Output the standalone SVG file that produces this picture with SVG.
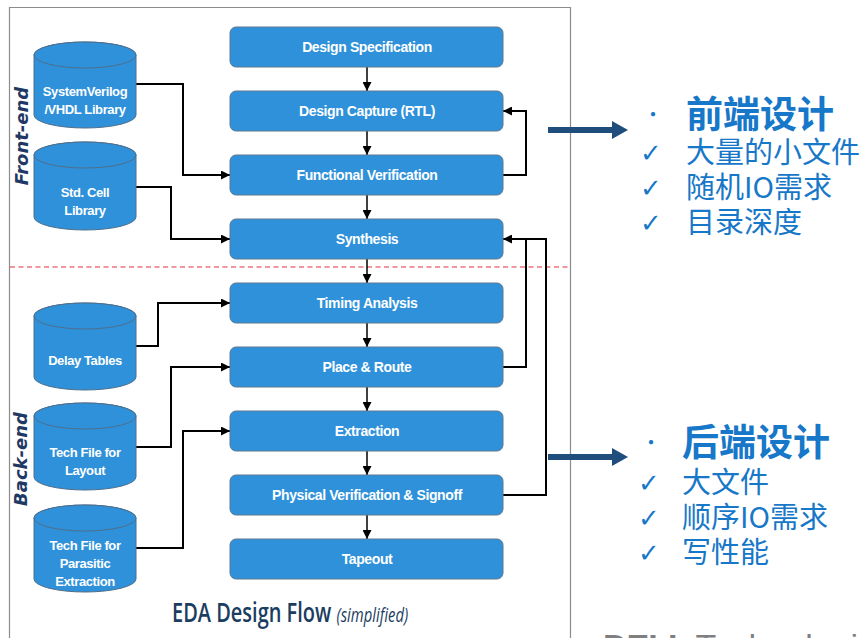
<svg xmlns="http://www.w3.org/2000/svg" width="866" height="638" viewBox="0 0 866 638">
<defs>
<style>
.box{fill:#2e91da;stroke:#5d7891;stroke-width:1}
.cyl{fill:#2e91da;stroke:#4f6f8c;stroke-width:1}
.bt{font-family:"Liberation Sans",Arial,sans-serif;font-weight:bold;font-size:14px;letter-spacing:-0.4px;fill:#ffffff;text-anchor:middle}
.ct{font-family:"Liberation Sans",Arial,sans-serif;font-weight:bold;font-size:13px;letter-spacing:-0.4px;fill:#ffffff;text-anchor:middle}
.ln{fill:none;stroke:#000;stroke-width:2}
.vl{fill:none;stroke:#000;stroke-width:1.5}
.side{font-family:"DejaVu Sans",Verdana,sans-serif;font-weight:bold;font-style:italic;font-size:18px;fill:#1f3864;text-anchor:middle}
.cn{font-family:"Noto Sans CJK SC","Noto Sans",sans-serif;fill:#1777c8}
.ck{font-family:"DejaVu Sans",sans-serif;fill:#1777c8;font-size:26px}
</style>
<marker id="ah" markerUnits="userSpaceOnUse" markerWidth="9" markerHeight="9" refX="9" refY="4.5" orient="auto">
<path d="M0,0 L9,4.5 L0,9 z" fill="#000"/>
</marker>
</defs>
<rect width="866" height="638" fill="#ffffff"/>
<path d="M9.5,640 V7.5 H570.5 V640" fill="none" stroke="#8c8c8c" stroke-width="1.2"/>
<line x1="10" y1="267" x2="570" y2="267" stroke="#e0303a" stroke-width="1.2" stroke-dasharray="5,3.5"/>
<text class="side" transform="translate(28,136) rotate(-90)">Front-end</text>
<text class="side" transform="translate(27,459) rotate(-90)">Back-end</text>

<g id="connectors">
<path class="vl" d="M367,67 V91" marker-end="url(#ah)"/>
<path class="vl" d="M367,131 V155" marker-end="url(#ah)"/>
<path class="vl" d="M367,195 V219" marker-end="url(#ah)"/>
<path class="vl" d="M367,259 V283" marker-end="url(#ah)"/>
<path class="vl" d="M367,323 V347" marker-end="url(#ah)"/>
<path class="vl" d="M367,387 V411" marker-end="url(#ah)"/>
<path class="vl" d="M367,451 V475" marker-end="url(#ah)"/>
<path class="vl" d="M367,515 V539" marker-end="url(#ah)"/>
<path class="ln" d="M136,84 H183 V175 H230" marker-end="url(#ah)"/>
<path class="ln" d="M136,187 H171 V239 H230" marker-end="url(#ah)"/>
<path class="ln" d="M136,346 H158 V303 H230" marker-end="url(#ah)"/>
<path class="ln" d="M136,447 H171 V367 H230" marker-end="url(#ah)"/>
<path class="ln" d="M136,548 H183 V431 H230" marker-end="url(#ah)"/>
<path class="ln" d="M503,175 H526 V111 H503" marker-end="url(#ah)"/>
<path class="ln" d="M503,367 H526 V239"/>
<path class="ln" d="M503,495 H546 V239 H503" marker-end="url(#ah)"/>
<path d="M548,130 H613" stroke="#1f4e7d" stroke-width="6" fill="none"/>
<polygon points="612,121 628,130 612,139" fill="#1f4e7d"/>
<path d="M548,457 H613" stroke="#1f4e7d" stroke-width="6" fill="none"/>
<polygon points="612,448 628,457 612,466" fill="#1f4e7d"/>
</g>

<g id="n1"><rect class="box" x="230" y="27" width="273" height="40" rx="6"/><text class="bt" x="367" y="52">Design Specification</text></g>
<g id="n2"><rect class="box" x="230" y="91" width="273" height="40" rx="6"/><text class="bt" x="367" y="116">Design Capture (RTL)</text></g>
<g id="n3"><rect class="box" x="230" y="155" width="273" height="40" rx="6"/><text class="bt" x="367" y="180">Functional Verification</text></g>
<g id="n4"><rect class="box" x="230" y="219" width="273" height="40" rx="6"/><text class="bt" x="367" y="244">Synthesis</text></g>
<g id="n5"><rect class="box" x="230" y="283" width="273" height="40" rx="6"/><text class="bt" x="367" y="308">Timing Analysis</text></g>
<g id="n6"><rect class="box" x="230" y="347" width="273" height="40" rx="6"/><text class="bt" x="367" y="372">Place &amp; Route</text></g>
<g id="n7"><rect class="box" x="230" y="411" width="273" height="40" rx="6"/><text class="bt" x="367" y="436">Extraction</text></g>
<g id="n8"><rect class="box" x="230" y="475" width="273" height="40" rx="6"/><text class="bt" x="367" y="500">Physical Verification &amp; Signoff</text></g>
<g id="n9"><rect class="box" x="230" y="539" width="273" height="40" rx="6"/><text class="bt" x="367" y="564">Tapeout</text></g>

<g id="c1"><path class="cyl" d="M34,55 V115 A51,13 0 0 0 136,115 V55 A51,13 0 0 0 34,55 Z"/><ellipse class="cyl" cx="85" cy="55" rx="51" ry="13"/><text class="ct" x="85" y="96">SystemVerilog</text><text class="ct" x="85" y="114">/VHDL Library</text></g>
<g id="c2"><path class="cyl" d="M34,155 V217 A51,13 0 0 0 136,217 V155 A51,13 0 0 0 34,155 Z"/><ellipse class="cyl" cx="85" cy="155" rx="51" ry="13"/><text class="ct" x="85" y="197">Std. Cell</text><text class="ct" x="85" y="215">Library</text></g>
<g id="c3"><path class="cyl" d="M34,316 V377 A51,13 0 0 0 136,377 V316 A51,13 0 0 0 34,316 Z"/><ellipse class="cyl" cx="85" cy="316" rx="51" ry="13"/><text class="ct" x="85" y="365">Delay Tables</text></g>
<g id="c4"><path class="cyl" d="M34,416 V477 A51,13 0 0 0 136,477 V416 A51,13 0 0 0 34,416 Z"/><ellipse class="cyl" cx="85" cy="416" rx="51" ry="13"/><text class="ct" x="85" y="457">Tech File for</text><text class="ct" x="85" y="475">Layout</text></g>
<g id="c5"><path class="cyl" d="M34,518 V579 A51,13 0 0 0 136,579 V518 A51,13 0 0 0 34,518 Z"/><ellipse class="cyl" cx="85" cy="518" rx="51" ry="13"/><text class="ct" x="85" y="550">Tech File for</text><text class="ct" x="85" y="568">Parasitic</text><text class="ct" x="85" y="586">Extraction</text></g>

<text transform="translate(172,622) scale(0.74,1)" font-family="'Open Sans','Liberation Sans',sans-serif" font-size="27" fill="#1b3d5f" font-weight="600">EDA Design Flow <tspan font-style="italic" font-size="20" font-weight="normal">(simplified)</tspan></text>

<g id="front">
<text x="643" y="122" class="cn" font-size="20">•</text>
<text x="686" y="128" class="cn" font-size="37" font-weight="bold">前端设计</text>
<text x="640" y="162" class="ck">✓</text>
<text x="686" y="163" class="cn" font-size="29">大量的小文件</text>
<text x="640" y="197" class="ck">✓</text>
<text x="686" y="198" class="cn" font-size="29">随机IO需求</text>
<text x="640" y="232" class="ck">✓</text>
<text x="686" y="233" class="cn" font-size="29">目录深度</text>
</g>
<g id="back">
<text x="641" y="450" class="cn" font-size="20">•</text>
<text x="682" y="456" class="cn" font-size="37" font-weight="bold">后端设计</text>
<text x="638" y="492" class="ck">✓</text>
<text x="682" y="493" class="cn" font-size="29">大文件</text>
<text x="638" y="527" class="ck">✓</text>
<text x="682" y="528" class="cn" font-size="29">顺序IO需求</text>
<text x="638" y="562" class="ck">✓</text>
<text x="682" y="563" class="cn" font-size="29">写性能</text>
</g>
<text x="603" y="658" font-family="'Liberation Sans',Arial,sans-serif" font-size="34" font-weight="bold" fill="#7f7f7f" letter-spacing="-1">DELL <tspan font-weight="normal" letter-spacing="0">Technologies</tspan></text>
</svg>
